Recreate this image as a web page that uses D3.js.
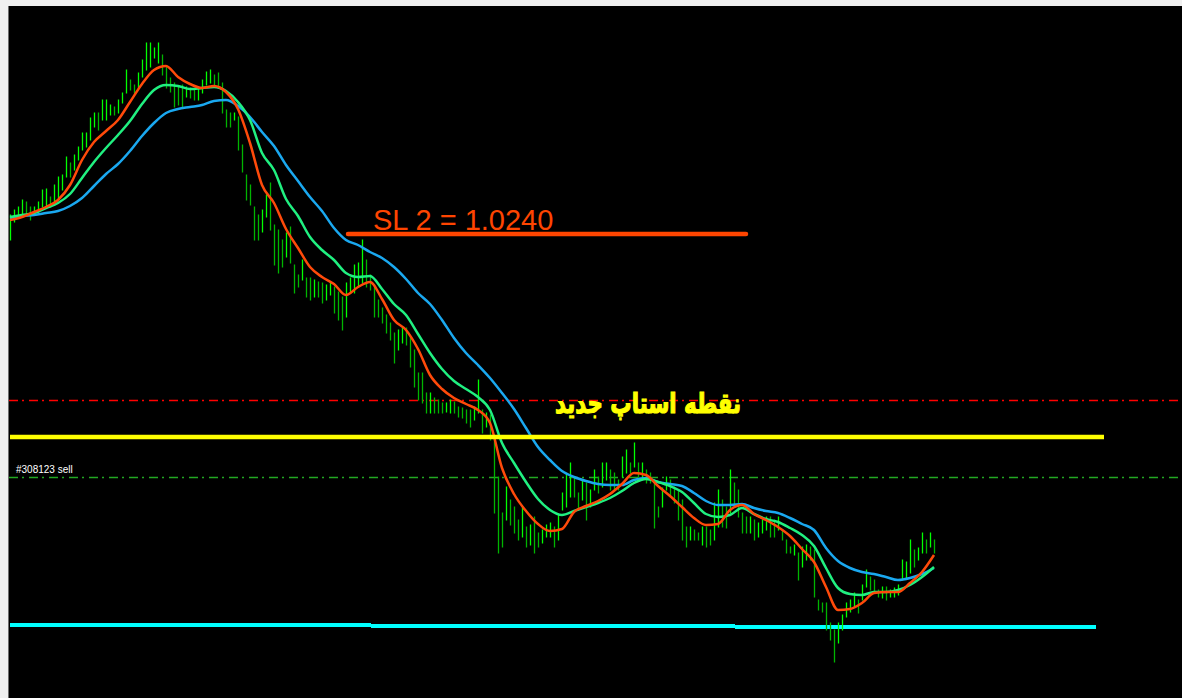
<!DOCTYPE html>
<html>
<head>
<meta charset="utf-8">
<script src="https://cdn.jsdelivr.net/npm/d3@7/dist/d3.min.js"></script>
<style>
  body { margin: 0; background: #000; overflow: hidden; }
</style>
</head>
<body>
<div id="chart"></div>
<script>
// bar highs / lows (one bar per period)
const high = [
  1.02419,1.02424,1.02427,1.02434,1.02432,1.02427,1.02427,1.02432,1.02444,1.02445,
  1.02437,1.02449,1.02457,1.02459,1.02477,1.02471,1.02479,1.02487,1.02501,1.02501,
  1.02516,1.02521,1.02521,1.02534,1.02534,1.02529,1.02527,1.02534,1.02541,1.02564,
  1.02554,1.02549,1.02561,1.02574,1.02591,1.02591,1.02586,1.02591,1.02579,1.02567,
  1.02556,1.02551,1.02547,1.02549,1.02547,1.02546,1.02544,1.02546,1.02554,1.02562,
  1.02564,1.02559,1.02561,1.02551,1.02524,1.02521,1.02521,1.02517,1.02489,1.02459,
  1.02449,1.02427,1.02419,1.02424,1.02439,1.02451,1.02409,1.02404,1.02394,1.02401,
  1.02407,1.02369,1.02359,1.02374,1.02356,1.02356,1.02354,1.02352,1.02351,1.02349,
  1.02351,1.02347,1.02342,1.02337,1.02351,1.02356,1.02369,1.02371,1.02394,1.02374,
  1.02359,1.02349,1.02334,1.02326,1.02319,1.02311,1.02301,1.02304,1.02307,1.02306,
  1.02297,1.02284,1.02261,1.02261,1.02241,1.02241,1.02236,1.02234,1.02231,1.02231,
  1.02234,1.02232,1.02227,1.02226,1.02224,1.02224,1.02227,1.02254,1.02224,1.02221,
  1.02219,1.02197,1.02157,1.02121,1.02147,1.02134,1.02127,1.02114,1.02127,1.02107,
  1.02109,1.02117,1.02101,1.02104,1.02109,1.02111,1.02107,1.02119,1.02141,1.02159,
  1.02171,1.02157,1.02141,1.02154,1.02151,1.02144,1.02164,1.02157,1.02171,1.02171,
  1.02164,1.02161,1.02154,1.02177,1.02184,1.02171,1.02191,1.02171,1.02171,1.02164,
  1.02161,1.02154,1.02127,1.02146,1.02157,1.02154,1.02147,1.02144,1.02134,1.02107,
  1.02107,1.02104,1.02101,1.02107,1.02107,1.02104,1.02131,1.02144,1.02134,1.02127,
  1.02164,1.02151,1.02144,1.02121,1.02117,1.02117,1.02114,1.02111,1.02114,1.02117,
  1.02117,1.02114,1.02117,1.02104,1.02094,1.02087,1.02089,1.02081,1.02087,1.02089,
  1.02087,1.02084,1.02034,1.02031,1.02031,1.02011,1.02004,1.02011,1.02019,1.02031,
  1.02034,1.02041,1.02034,1.02049,1.02064,1.02057,1.02054,1.02044,1.02047,1.02047,
  1.02044,1.02046,1.02049,1.02074,1.02072,1.02094,1.02084,1.02086,1.02101,1.02094,
  1.02101,1.02094
];
const low = [
  1.02394,1.02412,1.02418,1.02420,1.02419,1.02414,1.02419,1.02421,1.02427,1.02426,
  1.02427,1.02431,1.02434,1.02444,1.02457,1.02457,1.02464,1.02474,1.02484,1.02487,
  1.02494,1.02507,1.02504,1.02514,1.02514,1.02519,1.02519,1.02521,1.02531,1.02541,
  1.02544,1.02541,1.02546,1.02557,1.02564,1.02567,1.02576,1.02571,1.02559,1.02546,
  1.02542,1.02527,1.02529,1.02527,1.02537,1.02536,1.02534,1.02534,1.02541,1.02549,
  1.02551,1.02549,1.02546,1.02521,1.02507,1.02507,1.02514,1.02484,1.02462,1.02434,
  1.02429,1.02394,1.02394,1.02402,1.02417,1.02404,1.02369,1.02361,1.02367,1.02377,
  1.02371,1.02341,1.02347,1.02354,1.02337,1.02334,1.02337,1.02337,1.02331,1.02334,
  1.02339,1.02321,1.02314,1.02304,1.02317,1.02341,1.02341,1.02347,1.02351,1.02347,
  1.02344,1.02317,1.02317,1.02311,1.02301,1.02294,1.02271,1.02284,1.02291,1.02289,
  1.02267,1.02247,1.02234,1.02231,1.02221,1.02221,1.02221,1.02221,1.02221,1.02222,
  1.02221,1.02221,1.02217,1.02216,1.02211,1.02207,1.02214,1.02221,1.02201,1.02207,
  1.02194,1.02121,1.02081,1.02087,1.02114,1.02109,1.02101,1.02094,1.02097,1.02087,
  1.02089,1.02081,1.02087,1.02091,1.02097,1.02097,1.02087,1.02094,1.02124,1.02127,
  1.02137,1.02137,1.02124,1.02134,1.02114,1.02127,1.02144,1.02141,1.02147,1.02154,
  1.02144,1.02144,1.02144,1.02157,1.02161,1.02161,1.02167,1.02157,1.02157,1.02151,
  1.02151,1.02106,1.02117,1.02127,1.02144,1.02139,1.02131,1.02114,1.02094,1.02087,
  1.02094,1.02094,1.02094,1.02089,1.02087,1.02089,1.02094,1.02107,1.02107,1.02106,
  1.02121,1.02127,1.02117,1.02101,1.02101,1.02101,1.02094,1.02097,1.02101,1.02104,
  1.02097,1.02097,1.02104,1.02094,1.02081,1.02081,1.02079,1.02054,1.02067,1.02074,
  1.02074,1.02037,1.02024,1.02022,1.02004,1.01994,1.01972,1.01991,1.02004,1.02017,
  1.02022,1.02027,1.02021,1.02034,1.02047,1.02044,1.02042,1.02037,1.02036,1.02034,
  1.02037,1.02037,1.02039,1.02054,1.02056,1.02061,1.02067,1.02074,1.02081,1.02081,
  1.02087,1.02081
];

// moving averages, one value every maStep bars
const maStep = 3;
const maFast = [
  1.02414,1.02417,1.02422,1.02427,1.02434,1.02449,1.02474,1.02492,1.02503,1.02514,
  1.02532,1.02550,1.02564,1.02568,1.02557,1.02550,1.02546,1.02548,1.02542,1.02525,
  1.02491,1.02449,1.02431,1.02405,1.02386,1.02367,1.02357,1.02350,1.02339,1.02347,
  1.02352,1.02335,1.02314,1.02304,1.02285,1.02259,1.02245,1.02236,1.02230,1.02224,
  1.02211,1.02166,1.02140,1.02123,1.02110,1.02103,1.02105,1.02122,1.02128,1.02133,
  1.02140,1.02150,1.02161,1.02159,1.02148,1.02138,1.02127,1.02116,1.02109,1.02110,
  1.02124,1.02129,1.02120,1.02114,1.02107,1.02098,1.02085,1.02072,1.02047,1.02024,
  1.02025,1.02031,1.02041,1.02042,1.02042,1.02051,1.02062,1.02079
];
const maMid = [
  1.02417,1.02419,1.02421,1.02426,1.02431,1.02440,1.02456,1.02472,1.02486,1.02499,
  1.02513,1.02530,1.02544,1.02549,1.02548,1.02545,1.02546,1.02547,1.02543,1.02532,
  1.02514,1.02481,1.02464,1.02435,1.02418,1.02397,1.02384,1.02374,1.02361,1.02357,
  1.02358,1.02345,1.02330,1.02319,1.02300,1.02281,1.02265,1.02253,1.02245,1.02237,
  1.02224,1.02191,1.02171,1.02152,1.02135,1.02124,1.02119,1.02123,1.02127,1.02131,
  1.02136,1.02143,1.02151,1.02155,1.02152,1.02148,1.02142,1.02131,1.02120,1.02117,
  1.02119,1.02126,1.02120,1.02115,1.02112,1.02106,1.02099,1.02088,1.02066,1.02046,
  1.02040,1.02039,1.02042,1.02042,1.02044,1.02049,1.02057,1.02067
];
const maSlow = [
  1.02416,1.02418,1.02419,1.02421,1.02423,1.02428,1.02436,1.02448,1.02460,1.02470,
  1.02483,1.02498,1.02511,1.02521,1.02525,1.02527,1.02529,1.02533,1.02534,1.02528,
  1.02517,1.02502,1.02488,1.02469,1.02453,1.02437,1.02423,1.02406,1.02394,1.02389,
  1.02382,1.02376,1.02367,1.02355,1.02341,1.02330,1.02314,1.02296,1.02281,1.02269,
  1.02256,1.02241,1.02225,1.02206,1.02187,1.02174,1.02163,1.02157,1.02153,1.02150,
  1.02149,1.02149,1.02154,1.02156,1.02152,1.02150,1.02148,1.02141,1.02133,1.02129,
  1.02129,1.02130,1.02126,1.02123,1.02121,1.02116,1.02110,1.02104,1.02086,1.02073,
  1.02066,1.02062,1.02060,1.02057,1.02054,1.02056,1.02060,1.02066
];

// horizontal levels (price, bar range)
const sl2 = { price: 1.02400, from: 84.5, to: 184, label: "SL 2 = 1.0240" };
const newStop = { price: 1.02197, from: 0, to: 273.5, label: "نقطه استاپ جدید" };
const stopLine = { price: 1.02234 };
const orderLine = { price: 1.02157, label: "#308123 sell" };
const supportSegs = [
  { price: 1.02009, from: 0, to: 90.25 },
  { price: 1.02008, from: 90.25, to: 181.25 },
  { price: 1.02007, from: 181.25, to: 271.5 }
];

const W = 1182, H = 698;
const plotLeft = 9, plotTop = 6;

const svg = d3.select("#chart").append("svg")
  .attr("width", W)
  .attr("height", H);

// window frame
svg.append("rect").attr("width", W).attr("height", H).attr("fill", "#000");
svg.append("rect").attr("width", W).attr("height", plotTop).attr("fill", "#f0f0f0");
svg.append("rect").attr("width", plotLeft - 1).attr("height", H).attr("fill", "#f0f0f0");
svg.append("line")
  .attr("x1", plotLeft - 0.5).attr("x2", plotLeft - 0.5)
  .attr("y1", plotTop).attr("y2", H)
  .attr("stroke", "#6e6e6e");

const x = d3.scaleLinear().domain([0, 293]).range([10, W]);
const y = d3.scaleLinear().domain([1.01936, 1.02634]).range([H, 0]);

const g = svg.append("g");

// dash-dot lines
g.append("line")
  .attr("x1", plotLeft).attr("x2", W)
  .attr("y1", Math.round(y(stopLine.price)) + 0.5).attr("y2", Math.round(y(stopLine.price)) + 0.5)
  .attr("stroke", "#ff0000").attr("stroke-width", 1.3)
  .attr("stroke-dasharray", "9,4,2,5");

g.append("line")
  .attr("x1", plotLeft).attr("x2", W)
  .attr("y1", Math.round(y(orderLine.price)) + 0.5).attr("y2", Math.round(y(orderLine.price)) + 0.5)
  .attr("stroke", "#22a822").attr("stroke-width", 1.3)
  .attr("stroke-dasharray", "9,4,2,5");

g.append("text")
  .attr("x", 16).attr("y", y(orderLine.price) - 4)
  .attr("fill", "#ffffff")
  .attr("font-family", "Liberation Sans, Arial, sans-serif")
  .attr("font-size", 10)
  .text(orderLine.label);

// support segments
g.selectAll(".support")
  .data(supportSegs)
  .enter()
  .append("line")
  .attr("class", "support")
  .attr("x1", d => x(d.from)).attr("x2", d => x(d.to))
  .attr("y1", d => y(d.price)).attr("y2", d => y(d.price))
  .attr("stroke", "#00ffff")
  .attr("stroke-width", 4);

// price bars
const bars = high.map((h, i) => ({ i, h, l: low[i] }));
g.selectAll(".bar")
  .data(bars)
  .enter()
  .append("line")
  .attr("class", "bar")
  .attr("x1", d => Math.round(x(d.i)) + 0.5)
  .attr("x2", d => Math.round(x(d.i)) + 0.5)
  .attr("y1", d => y(d.l) + 0.5)
  .attr("y2", d => y(d.h) - 0.5)
  .attr("stroke", d => (d.i > 0 && d.h + d.l < bars[d.i - 1].h + bars[d.i - 1].l) ? "#00b400" : "#00ff00")
  .attr("stroke-width", 1.3);

// moving averages
const maLine = d3.line()
  .x((d, k) => x(k * maStep))
  .y(d => y(d))
  .curve(d3.curveMonotoneX);

const maSeries = [
  { data: maSlow, color: "#1aa8f0" },
  { data: maMid, color: "#20f080" },
  { data: maFast, color: "#ff4a0a" }
];

g.selectAll(".ma")
  .data(maSeries)
  .enter()
  .append("path")
  .attr("class", "ma")
  .attr("fill", "none")
  .attr("stroke", d => d.color)
  .attr("stroke-width", 2.5)
  .attr("d", d => maLine(d.data));

// yellow stop line + label
g.append("line")
  .attr("x1", x(newStop.from)).attr("x2", x(newStop.to))
  .attr("y1", y(newStop.price)).attr("y2", y(newStop.price))
  .attr("stroke", "#ffff00")
  .attr("stroke-width", 4.5);

const stopText = g.append("text")
  .attr("x", 0).attr("y", 0)
  .attr("text-anchor", "middle")
  .attr("direction", "rtl")
  .attr("fill", "#ffff00")
  .attr("stroke", "#ffff00")
  .attr("stroke-width", 1.2)
  .attr("font-family", "DejaVu Sans, sans-serif")
  .attr("font-weight", "bold")
  .attr("font-size", 28)
  .text(newStop.label);
const stopW = stopText.node().getComputedTextLength();
stopText.attr("transform", `translate(648,413) scale(${186 / stopW},1)`);

// SL 2 line + label
g.append("line")
  .attr("x1", x(sl2.from)).attr("x2", x(sl2.to))
  .attr("y1", y(sl2.price)).attr("y2", y(sl2.price))
  .attr("stroke", "#ff4500")
  .attr("stroke-width", 4.5)
  .attr("stroke-linecap", "round");

g.append("text")
  .attr("x", 373).attr("y", 230)
  .attr("fill", "#ff4500")
  .attr("font-family", "Liberation Sans, Arial, sans-serif")
  .attr("font-size", 29)
  .text(sl2.label);
</script>
</body>
</html>
